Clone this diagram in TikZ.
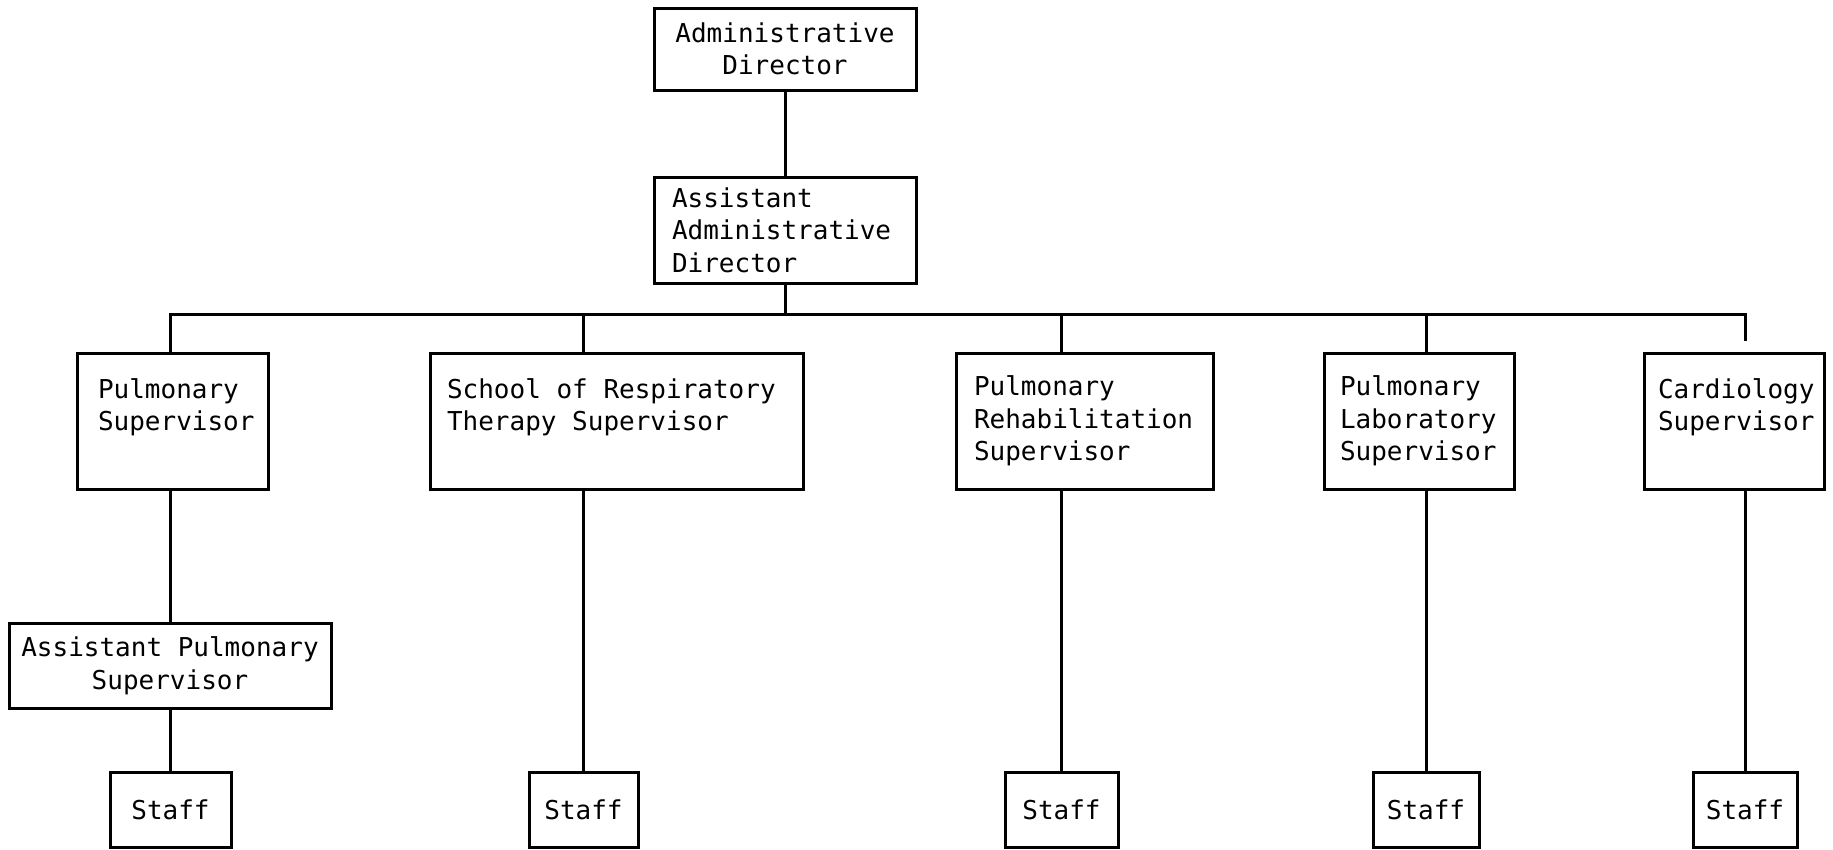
\documentclass[tikz,border=0pt]{standalone}
\usepackage{fontspec}
\newfontfamily\typer{DejaVu Sans Mono}
\newcommand\typerfont{\typer\fontsize{26}{32.5}\selectfont}
\begin{document}
\begin{tikzpicture}[x=1pt,y=-1pt,line width=3pt]
\tikzstyle{every node}=[draw,shape=rectangle,inner sep=0pt,font=\typerfont,execute at begin node={\spaceskip 15.65pt\relax}];
\tikzstyle{head}=[align=left,minimum height=136pt]
\useasboundingbox (0,0) rectangle (1833,849);

  \node[align=center,minimum width=262pt,minimum height=82pt] (ad) at (785,49) {Administrative\\Director};
  \node[align=left,text width=226pt,inner xsep=18pt,minimum height=106pt] (aad) at (785,230) {Assistant\\Administrative\\Director};

  \node[head,text width=149pt,inner xsep=21pt] (ps) at (172.5,421) {Pulmonary\\Supervisor\\\mbox{}};
  \node[head,text width=339pt,inner xsep=17pt] (sch) at (616.5,421) {School of Respiratory\\Therapy Supervisor\\\mbox{}};
  \node[head,text width=221pt,inner xsep=18pt] (pr) at (1084.5,421) {Pulmonary\\Rehabilitation\\Supervisor};
  \node[head,text width=158pt,inner xsep=16pt] (pl) at (1419,421) {Pulmonary\\Laboratory\\Supervisor};
  \node[head,text width=152pt,inner xsep=14pt] (cs) at (1734,421) {Cardiology\\Supervisor\\\mbox{}};

  \node[align=center,minimum width=322pt,minimum height=85pt] (ap) at (170,665.5) {Assistant Pulmonary\\Supervisor};

  \node[minimum width=121pt,minimum height=75pt] (st1) at (170.5,809.5) {Staff};
  \node[minimum width=109pt,minimum height=75pt] (st2) at (583.5,809.5) {Staff};
  \node[minimum width=113pt,minimum height=75pt] (st3) at (1061.5,809.5) {Staff};
  \node[minimum width=106pt,minimum height=75pt] (st4) at (1426,809.5) {Staff};
  \node[minimum width=104pt,minimum height=75pt] (st5) at (1745,809.5) {Staff};

\coordinate (bus) at (785,314);
\draw (ad) -- (aad);
\draw (aad) -- (bus);
\draw (st1 |- ps.north) -- (st1 |- bus) -- (st5 |- bus) -- ([yshift=11pt]st5 |- cs.north);
\draw (st1 |- ps.south) -- (st1 |- ap.north);
\draw (st1 |- ap.south) -- (st1);
\foreach \head/\staff in {sch/st2, pr/st3, pl/st4}
\draw (\staff |- bus) -- (\staff |- \head.north) (\staff |- \head.south) -- (\staff);
\draw (st5 |- cs.south) -- (st5);

\end{tikzpicture}
\end{document}
